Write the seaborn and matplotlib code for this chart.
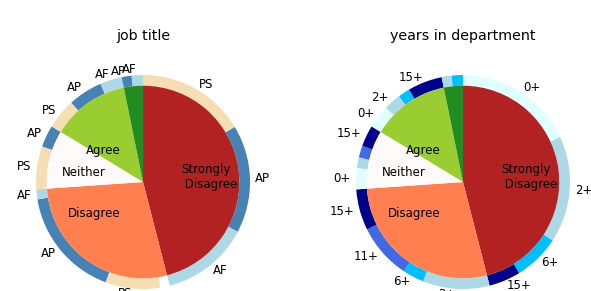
import matplotlib
matplotlib.use("Agg")
import pandas as pd
import seaborn as sns
from matplotlib import pyplot as plt

# inner ring: answers (share of responses, %)
levels = ["Strongly\n Disagree", "Disagree", "Neither", "Agree", ""]
responses = [46.0, 27.9, 9.8, 13.1, 3.2]
level_colors = ["firebrick", "coral", "snow", "yellowgreen", "forestgreen"]

# outer ring, job title (split of each answer, clockwise from the top)
job_cat = ["PS", "AP", "AF", "none", "PS", "AP", "AF", "PS", "AP", "PS", "AP", "AF", "AP", "AF"]
job_labels = ["PS", "AP", "AF", "", "PS", "AP", "AF", "PS", "AP", "PS", "AP", "AF", "AP", "AF"]
job_values = [16.4, 16.3, 13.3, 1.4, 8.3, 16.7, 1.5, 6.5, 3.3, 4.6, 5.2, 3.3, 1.5, 1.7]
job_colors = {"PS": "wheat", "AP": "steelblue", "AF": "lightblue", "none": "white"}

# outer ring, years in department
years_cat = ["0+", "2+", "6+", "15+", "2+", "6+", "11+", "15+", "0+", "2+", "11+", "15+",
             "0+", "2+", "6+", "15+", "2+", "6+"]
years_labels = ["0+", "2+", "6+", "15+", "2+", "6+", "11+", "15+", "0+", "", "", "15+",
                "0+", "2+", "", "15+", "", ""]
years_values = [18.1, 16.1, 7.0, 4.8, 10.1, 3.2, 8.4, 6.2, 3.2, 1.6, 1.8, 3.2,
                3.5, 2.6, 1.8, 5.2, 1.5, 1.7]
years_colors = {"0+": "lightcyan", "2+": "lightblue", "6+": "deepskyblue",
                "11+": "royalblue", "15+": "darkblue"}

sns.set_style("white")
plt.rcParams["font.family"] = ["DejaVu Sans"]
plt.rcParams["text.color"] = "black"

fig = plt.figure(figsize=(5.91, 2.91), dpi=100)
ax1 = fig.add_axes([0.0157, -0.0851, 0.4526, 0.9192])
ax2 = fig.add_axes([0.5571, -0.0851, 0.4526, 0.9192])

panels = [
    (ax1, "job title", pd.DataFrame({"cat": job_cat, "label": job_labels, "value": job_values}), job_colors),
    (ax2, "years in department", pd.DataFrame({"cat": years_cat, "label": years_labels, "value": years_values}), years_colors),
]

for ax, title, df, cmap in panels:
    ax.pie(df["value"], radius=1.0, labels=df["label"], labeldistance=1.05,
           colors=[cmap[c] for c in df["cat"]], startangle=90, counterclock=False,
           wedgeprops=dict(width=0.1, linewidth=0), textprops=dict(fontsize=8.5))
    ax.pie(responses, radius=0.9, labels=levels, labeldistance=0.4,
           colors=level_colors, startangle=90, counterclock=False,
           wedgeprops=dict(linewidth=0), textprops=dict(fontsize=8.5))
    ax.set_xlim(-1.25, 1.25)
    ax.set_ylim(-1.25, 1.25)
    ax.set_aspect("equal")
    ax.set_title(title, fontsize=10.3)

fig.savefig("out.png", dpi=100)
